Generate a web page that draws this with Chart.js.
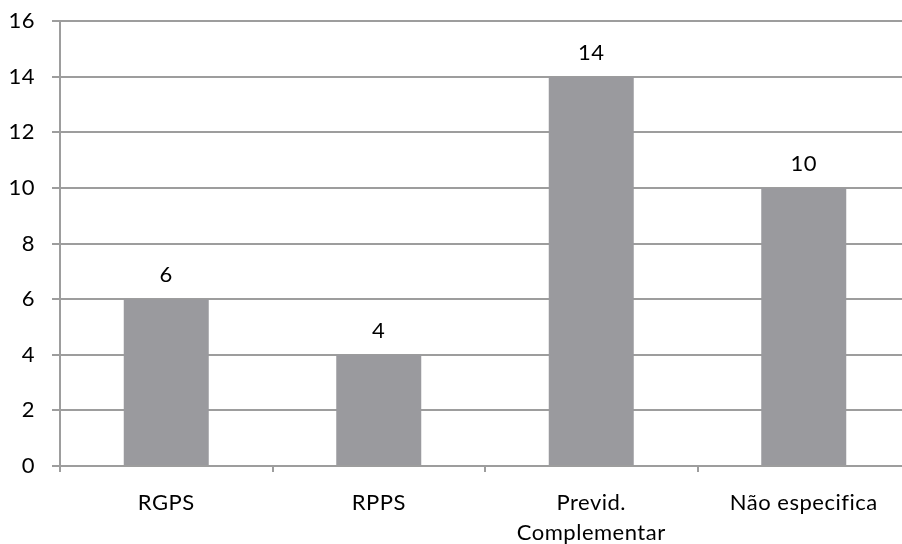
<!DOCTYPE html>
<html lang="pt">
<head>
<meta charset="utf-8">
<title>Previdência</title>
<script src="https://cdn.jsdelivr.net/npm/chart.js@4/dist/chart.umd.min.js"></script>
<style>
  html, body { margin: 0; padding: 0; background: #fff; overflow: hidden; }
  #wrap { position: relative; width: 910px; height: 544px; }
</style>
</head>
<body>
<div id="wrap"><canvas id="chart"></canvas></div>
<script>
// Categories (multi-line labels as arrays) and counts
const categories = ['RGPS', 'RPPS', ['Previd.', 'Complementar'], 'Não especifica'];
const counts = [6, 4, 14, 10];
const yTicks = { min: 0, max: 16, step: 2 };

const FONT = 'Lato, "Open Sans", sans-serif';
const FONT_SIZE = 22;
const LINE = '#9d9d9d';
const BAR = '#9a9a9e';

// Slightly open letter spacing for all chart text
const spacing = {
  id: 'spacing',
  beforeDraw(chart) { chart.ctx.letterSpacing = '0.5px'; }
};

// Writes each bar's value above it
const valueLabels = {
  id: 'valueLabels',
  afterDatasetsDraw(chart) {
    const { ctx } = chart;
    const meta = chart.getDatasetMeta(0);
    const data = chart.data.datasets[0].data;
    ctx.save();
    ctx.font = FONT_SIZE + 'px ' + FONT;
    ctx.fillStyle = '#000';
    ctx.textAlign = 'center';
    ctx.textBaseline = 'middle';
    meta.data.forEach((bar, i) => {
      ctx.fillText(String(data[i]), bar.x, bar.y - 24);
    });
    ctx.restore();
  }
};

new Chart(document.getElementById('chart'), {
  type: 'bar',
  data: {
    labels: categories,
    datasets: [{
      data: counts,
      backgroundColor: BAR,
      borderWidth: 0,
      barPercentage: 0.8,
      categoryPercentage: 0.5
    }]
  },
  options: {
    responsive: true,
    maintainAspectRatio: false,
    animation: false,
    layout: { padding: { top: 21, right: 0, bottom: 0, left: 0 } },
    plugins: { legend: { display: false }, tooltip: { enabled: false } },
    scales: {
      x: {
        grid: { offset: true, drawOnChartArea: false, drawTicks: true, tickLength: 6, color: LINE, lineWidth: 2 },
        border: { color: LINE, width: 2 },
        ticks: { color: '#000', font: { family: FONT, size: FONT_SIZE, lineHeight: 1.36 }, padding: 16, maxRotation: 0, autoSkip: false },
        afterFit(scale) { scale.height = 78; scale.paddingLeft = 0; scale.paddingRight = 0; }
      },
      y: {
        min: yTicks.min,
        max: yTicks.max,
        grid: { color: LINE, lineWidth: 2, drawTicks: true, tickLength: 8 },
        border: { color: LINE, width: 2 },
        ticks: { stepSize: yTicks.step, color: '#000', font: { family: FONT, size: FONT_SIZE }, padding: 17 },
        afterFit(scale) { scale.width = 60; scale.paddingTop = 0; scale.paddingBottom = 0; }
      }
    }
  },
  plugins: [spacing, valueLabels]
});
</script>
</body>
</html>
